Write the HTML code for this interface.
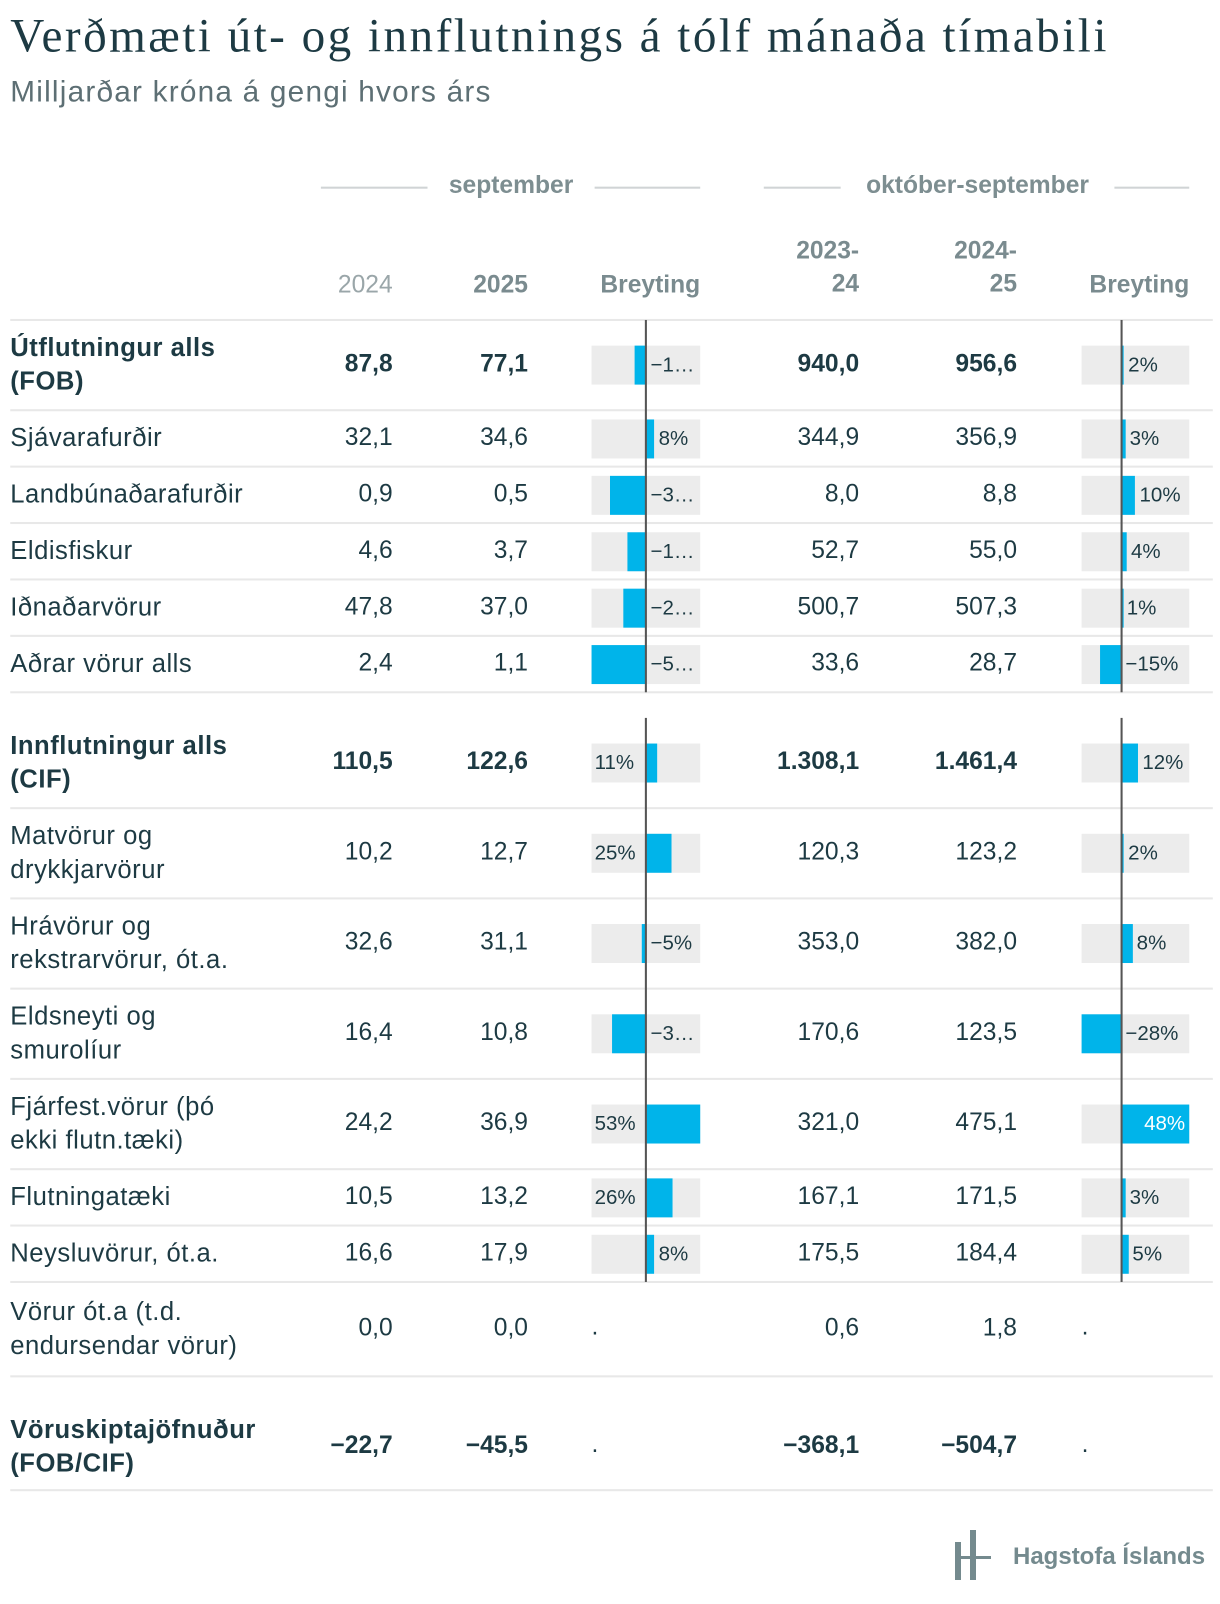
<!DOCTYPE html>
<html><head><meta charset="utf-8">
<style>
html,body{margin:0;padding:0;background:#fff;}
body{width:1220px;height:1604px;overflow:hidden;position:relative;font-family:"Liberation Sans",sans-serif;color:#1d3a43;}
#stage{position:absolute;left:0;top:0;width:1190px;height:1564px;transform:scale(1.02521,1.02558);transform-origin:0 0;}
.a{position:absolute;white-space:nowrap;}
.title{left:10px;top:8px;font-family:"Liberation Serif",serif;font-size:46px;color:#1d3a43;letter-spacing:2.4px;}
.sub{left:10px;top:74px;font-size:29px;color:#5d6f74;letter-spacing:1.2px;}
.grp{font-size:24px;font-weight:bold;color:#7d8e91;text-align:center;}
.hline{position:absolute;height:2px;background:#d0d4d5;}
.colh{font-size:24px;font-weight:bold;color:#7a8b8f;text-align:right;line-height:32px;}
.sep{position:absolute;left:10px;width:1173px;height:2px;background:#e8e8e8;}
.lab{left:10px;font-size:25px;line-height:33px;letter-spacing:0.5px;}
.num{font-size:24px;text-align:right;width:120px;}
.box{position:absolute;background:#ececec;height:38px;}
.bar{position:absolute;background:#00b4ea;height:38px;}
.zl{position:absolute;width:2px;background:#555;}
.pl{position:absolute;font-size:20px;line-height:38px;overflow:hidden;text-overflow:ellipsis;white-space:nowrap;color:#1d3a43;}
.b{font-weight:bold;}
</style></head>
<body>
<div id="stage">
<div class="a title">Verðmæti út- og innflutnings á tólf mánaða tímabili</div>
<div class="a sub">Milljarðar króna á gengi hvors árs</div>

<div class="hline" style="left:313px;width:104px;top:182px"></div>
<div class="a grp" style="left:417px;width:163px;top:167px">september</div>
<div class="hline" style="left:580px;width:103px;top:182px"></div>
<div class="hline" style="left:745px;width:75px;top:182px"></div>
<div class="a grp" style="left:820px;width:267px;top:167px">október-september</div>
<div class="hline" style="left:1087px;width:73px;top:182px"></div>

<div class="a colh" style="left:283px;width:100px;top:262px;font-weight:normal;color:#9aa6a9">2024</div>
<div class="a colh" style="left:415px;width:100px;top:262px">2025</div>
<div class="a colh" style="left:560px;width:123px;top:262px">Breyting</div>
<div class="a colh" style="left:738px;width:100px;top:229px">2023-<br>24</div>
<div class="a colh" style="left:892px;width:100px;top:229px">2024-<br>25</div>
<div class="a colh" style="left:1037px;width:123px;top:262px">Breyting</div>
<div class="sep" style="top:311px"></div>
</div>
<script>
const categories=["Útflutningur alls<br>(FOB)","Sjávarafurðir","Landbúnaðarafurðir","Eldisfiskur","Iðnaðarvörur","Aðrar vörur alls","Innflutningur alls<br>(CIF)","Matvörur og<br>drykkjarvörur","Hrávörur og<br>rekstrarvörur, ót.a.","Eldsneyti og<br>smurolíur","Fjárfest.vörur (þó<br>ekki flutn.tæki)","Flutningatæki","Neysluvörur, ót.a.","Vörur ót.a (t.d.<br>endursendar vörur)","Vöruskiptajöfnuður<br>(FOB/CIF)"];
const sep2024=["87,8","32,1","0,9","4,6","47,8","2,4","110,5","10,2","32,6","16,4","24,2","10,5","16,6","0,0","−22,7"];
const sep2025=["77,1","34,6","0,5","3,7","37,0","1,1","122,6","12,7","31,1","10,8","36,9","13,2","17,9","0,0","−45,5"];
const sepChange=[-12,8,-36,-19,-23,-54,11,25,-5,-34,53,26,8,null,null];
const per1=["940,0","344,9","8,0","52,7","500,7","33,6","1.308,1","120,3","353,0","170,6","321,0","167,1","175,5","0,6","−368,1"];
const per2=["956,6","356,9","8,8","55,0","507,3","28,7","1.461,4","123,2","382,0","123,5","475,1","171,5","184,4","1,8","−504,7"];
const perChange=[2,3,10,4,1,-15,12,2,8,-28,48,3,5,null,null];
const bold=[true,false,false,false,false,false,true,false,false,false,false,false,false,false,true];
const rowTop=[312,400,455,510,565,620,700,788,876,964,1052,1140,1195,1250,1368];
const rowBot=[400,455,510,565,620,675,788,876,964,1052,1140,1195,1250,1342,1453];
const st=document.getElementById('stage');
const cv=document.createElement('canvas').getContext('2d');cv.font='20px "Liberation Sans"';
function mk(cls,css,html){const d=document.createElement('div');d.className=cls;d.style.cssText=css;if(html!=null)d.innerHTML=html;st.appendChild(d);return d;}
function fmt(v){return (v<0?'−':'')+Math.abs(v)+'%';}
function xs(v,lo,hi,x0,x1){return x0+(v-lo)/(hi-lo)*(x1-x0);}
const L={x0:577,x1:683,lo:-54,hi:53}, R={x0:1055,x1:1160,lo:-28,hi:48};
function barCell(v,cy,ax,i,nm){
  if(v==null){const d=mk('a','left:'+(ax.x0)+'px;top:'+(cy-16)+'px;font-size:24px','.');return;}
  const top=cy-19;
  const bx=mk('box','left:'+ax.x0+'px;width:'+(ax.x1-ax.x0)+'px;top:'+top+'px');
  
  
  const z=xs(0,ax.lo,ax.hi,ax.x0,ax.x1), e=xs(v,ax.lo,ax.hi,ax.x0,ax.x1);
  const b=mk('bar','left:'+Math.min(z,e)+'px;width:'+Math.max(2,Math.abs(e-z))+'px;top:'+top+'px');
  
  
  const t=fmt(v), w=cv.measureText(t).width;
  let css;
  if(v>=0){
    const room=ax.x1-e-6;
    if(w<=room) css='left:'+(e+4)+'px;width:'+(ax.x1-e-4)+'px;';
    else if(w<=z-ax.x0-6) css='left:'+(ax.x0+3)+'px;width:'+(z-ax.x0-4)+'px;';
    else css='left:'+(ax.x0)+'px;width:'+(ax.x1-ax.x0-4)+'px;text-align:right;color:#fff;';
  } else css='left:'+(z+4)+'px;width:'+(ax.x1-z-4)+'px;';
  const p=mk('pl',css+'top:'+top+'px',t);
  
  
}
for(let i=0;i<categories.length;i++){
  const cy=(rowTop[i]+rowBot[i])/2, b=bold[i]?' b':'';
  const lab=mk('a lab'+b,'top:'+(cy-(categories[i].includes('<br>')?33:16.5))+'px',categories[i]);
  
  
  [[sep2024,263],[sep2025,395],[per1,718],[per2,872]].forEach(([arr,x])=>{
    const n=mk('a num'+b,'left:'+x+'px;top:'+(cy-15)+'px',arr[i]);
    
    
  });
  barCell(sepChange[i],cy,L,i,'month-change');
  barCell(perChange[i],cy,R,i,'period-change');
  const s=mk('sep','top:'+(rowBot[i]-1)+'px');
  
  
}
[[312,675],[700,1250]].forEach(([a,bb])=>{
  [630,1094].forEach(x=>{const z=mk('zl','left:'+(x-1)+'px;top:'+a+'px;height:'+(bb-a)+'px');
  
  });
});
</script>
<svg style="position:absolute;left:953px;top:1530px" width="40" height="52">
<rect x="2" y="12" width="6" height="38" fill="#748a8e"/><rect x="17" y="0" width="6" height="50" fill="#748a8e"/><rect x="2" y="26" width="36" height="3" fill="#748a8e"/>
</svg>
<div class="a" style="left:1013px;top:1543px;font-size:24px;font-weight:bold;color:#748a8e">Hagstofa Íslands</div>
</body></html>
